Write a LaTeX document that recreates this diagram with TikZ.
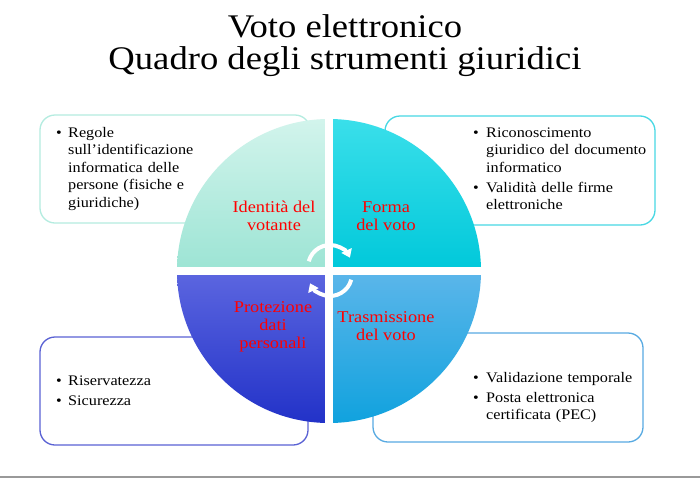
\documentclass[tikz,border=0pt]{standalone}
\usepackage{fontspec}
\setmainfont{Liberation Serif}[FakeStretch=1.11]
\usetikzlibrary{arrows.meta}
\definecolor{mintB}{HTML}{B4ECE0}
\definecolor{cyanB}{HTML}{48D8E4}
\definecolor{indB}{HTML}{5A62D4}
\definecolor{skyB}{HTML}{58AAE2}
\definecolor{redL}{HTML}{FF0000}
\definecolor{q1t}{HTML}{D2F4EC}
\definecolor{q1b}{HTML}{9CE4D4}
\definecolor{q2t}{HTML}{3ADFEA}
\definecolor{q2b}{HTML}{00C8DA}
\definecolor{q3t}{HTML}{5C66E0}
\definecolor{q3b}{HTML}{2232C8}
\definecolor{q4t}{HTML}{5CB6EA}
\definecolor{q4b}{HTML}{10A2DE}
\tikzset{
  infobox/.style={draw, line width=1.3pt, rounded corners=15pt, fill=white},
  quad/.style={line width=0pt},
  bodytxt/.style={font=\fontsize{14.6}{17.5}\selectfont, anchor=base west, align=left, inner sep=0pt, text width=#1},
  bodytxt/.default=200pt,
  bul/.style={font=\fontsize{14.6}{17.5}\selectfont, anchor=base west, inner sep=0pt},
  quadlbl/.style={font=\fontsize{16.5}{18}\selectfont, text=redL, align=center, anchor=base, inner sep=0pt},
  cyc/.style={white, line width=4pt, -{Triangle[width=11pt,length=8pt]}},
}
\begin{document}
\begin{tikzpicture}[x=1pt,y=-1pt]
\useasboundingbox (0,0) rectangle (700,482);
\fill[white] (0,0) rectangle (700,482);
% title
\node[font=\fontsize{33}{32.5}\selectfont, align=center, anchor=base, inner sep=0pt] (title) at (345,69.5) {Voto elettronico\\Quadro degli strumenti giuridici};
% boxes
\draw[infobox, draw=mintB] (40,115) rectangle (310,223);
\draw[infobox, draw=cyanB] (385,116) rectangle (655,225);
\draw[infobox, draw=indB] (40,337) rectangle (308,445);
\draw[infobox, draw=skyB] (373,333) rectangle (643,442);
\coordinate (C) at (329,271);
% quadrants
\path[quad, top color=q1t, bottom color=q1b] (C) -- ++(-152,0) arc[start angle=180, end angle=270, radius=152] -- cycle;
\path[quad, top color=q2t, bottom color=q2b] (C) -- ++(0,-152) arc[start angle=270, end angle=360, radius=152] -- cycle;
\path[quad, top color=q3t, bottom color=q3b] (C) -- ++(0,152) arc[start angle=90, end angle=180, radius=152] -- cycle;
\path[quad, top color=q4t, bottom color=q4b] (C) -- ++(152,0) arc[start angle=0, end angle=90, radius=152] -- cycle;
% white separators
\draw[white, line width=8pt] (174,271) -- (484,271);
\draw[white, line width=8pt] (329,116) -- (329,426);
% cycle arrows
\coordinate (ua) at (330,267);
\coordinate (la) at (330,274);
\draw[cyc] ([shift={(195:22)}]ua) arc[start angle=195, end angle=335, radius=22];
\draw[cyc] ([shift={(15:22)}]la) arc[start angle=15, end angle=155, radius=22];
% quadrant labels (anchor = baseline of last line)
\node[quadlbl] (q1) at (274,230) {Identità del\\votante};
\node[quadlbl] (q2) at (386,230) {Forma\\del voto};
\node[quadlbl] (q3) at (273,348) {Protezione\\dati\\personali};
\node[quadlbl] (q4) at (386,340) {Trasmissione\\del voto};
% box texts
\node[bul] (b11) at (56,137) {•};
\node[bodytxt] (i11) at (68,137) {Regole\\sull’identificazione\\informatica delle\\persone (fisiche e\\giuridiche)};
\node[bul] (b21) at (473,137) {•};
\node[bodytxt] (i21) at (486,137) {Riconoscimento\\giuridico del documento\\informatico};
\node[bul] (b22) at (473,192) {•};
\node[bodytxt] (i22) at (486,192) {Validità delle firme\\elettroniche};
\node[bul] (b31) at (56,385) {•};
\node[bodytxt] (i31) at (68,385) {Riservatezza};
\node[bul] (b32) at (56,405) {•};
\node[bodytxt] (i32) at (68,405) {Sicurezza};
\node[bul] (b41) at (473,382) {•};
\node[bodytxt] (i41) at (486,382) {Validazione temporale};
\node[bul] (b42) at (473,402) {•};
\node[bodytxt] (i42) at (486,402) {Posta elettronica\\certificata (PEC)};
% bottom rule
\draw[gray!80, line width=1.5pt] (0,477) -- (700,477);
\end{tikzpicture}
\end{document}
